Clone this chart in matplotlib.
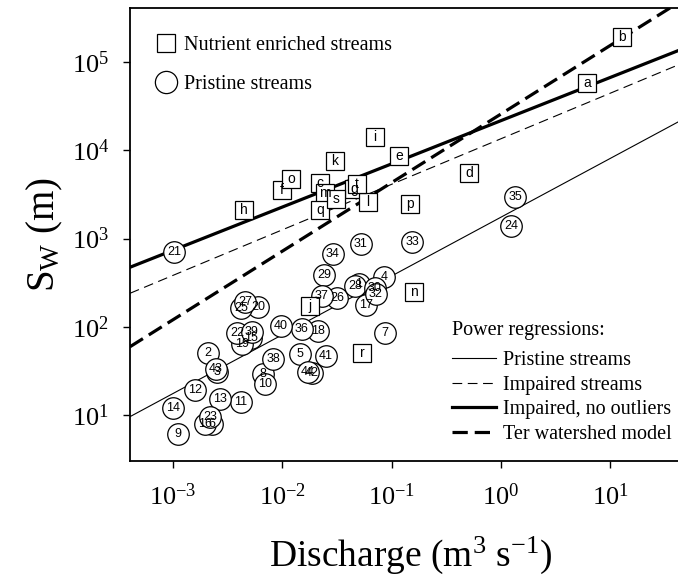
import matplotlib
matplotlib.use('Agg')
import matplotlib.pyplot as plt
import numpy as np
from matplotlib.lines import Line2D

plt.rcParams['font.family'] = 'Liberation Serif'
plt.rcParams['mathtext.fontset'] = 'custom'
plt.rcParams['mathtext.rm'] = 'Liberation Serif'
plt.rcParams['mathtext.it'] = 'Liberation Serif:italic'
plt.rcParams['mathtext.default'] = 'regular'
plt.rcParams['lines.scale_dashes'] = False

# Nutrient enriched (impaired) streams, labelled a..t
enriched_ids = ['a', 'b', 'c', 'd', 'e', 'f', 'g', 'h', 'i', 'j',
                'k', 'l', 'm', 'n', 'o', 'p', 'q', 'r', 's', 't']
enriched_q = [6.14, 12.8, 0.0221, 0.511, 0.117, 0.00993, 0.0453, 0.00447, 0.0705, 0.0179,
              0.0303, 0.0608, 0.0246, 0.160, 0.0120, 0.147, 0.0221, 0.0536, 0.0310, 0.0482]
enriched_sw = [57800, 192000, 4255, 5520, 8610, 3550, 3640, 2100, 14100, 172,
               7550, 2590, 3280, 248, 4720, 2460, 2100, 50.5, 2810, 4150]

# Pristine streams, numbered 1..44
pristine_ids = list(range(1, 45))
pristine_q = [0.0504, 0.00209, 0.00253, 0.0851, 0.0145, 0.00228, 0.0871, 0.00665, 0.00111, 0.00695,
              0.00419, 0.00159, 0.00269, 0.00100, 0.00517, 0.00196, 0.0583, 0.0212, 0.00428, 0.00600,
              0.00102, 0.00385, 0.00218, 1.24, 0.00419, 0.0316, 0.00456, 0.0462, 0.0241, 0.0705,
              0.0525, 0.0720, 0.154, 0.0291, 1.35, 0.0151, 0.0231, 0.00822, 0.00528, 0.00973,
              0.0251, 0.0187, 0.00247, 0.0172]
pristine_sw = [305, 50.5, 30.7, 366, 49.1, 7.91, 84.9, 29.2, 6.10, 22.4,
               14.0, 19.2, 15.2, 12.0, 74.7, 7.91, 176, 89.5, 63.8, 167,
               703, 84.9, 9.48, 1387, 163, 212, 191, 290, 385, 275,
               867, 235, 912, 667, 2950, 94.4, 223, 43.2, 87.3, 102,
               46.7, 29.9, 33.2, 30.7]

# Power regressions Sw = c * Q^b
fit_names = ['Pristine streams', 'Impaired streams', 'Impaired, no outliers', 'Ter watershed model']
fit_c = [1742, 13490, 21630, 25700]
fit_b = [0.666, 0.516, 0.4895, 0.777]
fit_styles = [dict(color='black', lw=0.8, ls='-'),
              dict(color='black', lw=0.8, ls=(0, (7, 4))),
              dict(color='black', lw=2.3, ls='-'),
              dict(color='black', lw=2.3, ls=(0, (11, 5)))]

xlo, xhi = 10 ** -3.393, 10 ** 1.75
ylo, yhi = 10 ** 0.479, 10 ** 5.612

fig = plt.figure(figsize=(6.78, 5.79), dpi=100)
ax = fig.add_axes([0.1917, 0.2038, 0.8292, 0.7824])
ax.set_xscale('log')
ax.set_yscale('log')
ax.set_xlim(xlo, xhi)
ax.set_ylim(ylo, yhi)

qq = np.logspace(np.log10(xlo), np.log10(xhi), 100)
for c, b, st in zip(fit_c, fit_b, fit_styles):
    ax.plot(qq, c * qq ** b, zorder=2, **st)

ax.plot(pristine_q, pristine_sw, 'o', ms=15.5, mfc='white', mec='black', mew=0.9, zorder=3)
ax.plot(enriched_q, enriched_sw, 's', ms=12.5, mfc='white', mec='black', mew=0.9, zorder=3)
for q, s, n in zip(pristine_q, pristine_sw, pristine_ids):
    ax.text(q, s, str(n), ha='center', va='center', fontsize=9,
            family='Liberation Sans', zorder=4)
for q, s, n in zip(enriched_q, enriched_sw, enriched_ids):
    ax.text(q, s, n, ha='center', va='center', fontsize=10,
            family='Liberation Sans', zorder=4)

ax.set_xticks([1e-3, 1e-2, 1e-1, 1e0, 1e1])
ax.set_xticklabels(['10$^{-3}$', '10$^{-2}$', '10$^{-1}$', '10$^{0}$', '10$^{1}$'])
ax.set_yticks([1e1, 1e2, 1e3, 1e4, 1e5])
ax.set_yticklabels(['10$^{1}$', '10$^{2}$', '10$^{3}$', '10$^{4}$', '10$^{5}$'])
ax.minorticks_off()
ax.tick_params(direction='out', length=5, width=1, labelsize=19)
ax.tick_params(axis='x', pad=11)
ax.tick_params(axis='y', pad=10)
for sp in ax.spines.values():
    sp.set_linewidth(1.3)

ax.set_xlabel('Discharge (m$^{3}$ s$^{-1}$)', fontsize=27, labelpad=18)
ax.set_ylabel('S$_{W}$ (m)', fontsize=28, labelpad=5)

sym_handles = [Line2D([], [], marker='s', ls='none', ms=12.5, mfc='white', mec='black', mew=0.9),
               Line2D([], [], marker='o', ls='none', ms=16, mfc='white', mec='black', mew=0.9)]
leg1 = ax.legend(sym_handles, ['Nutrient enriched streams', 'Pristine streams'],
                 loc='upper left', bbox_to_anchor=(154 / 678, 1 - 36 / 579),
                 bbox_transform=fig.transFigure, frameon=False, fontsize=14.5,
                 handlelength=1.2, handletextpad=0.3, labelspacing=1.0,
                 borderpad=0, borderaxespad=0)
ax.add_artist(leg1)

line_handles = [Line2D([], [], **st) for st in fit_styles]
leg2 = ax.legend(line_handles, fit_names, title='Power regressions:',
                 title_fontsize=14.5, alignment='left',
                 loc='upper left', bbox_to_anchor=(452 / 678, 1 - 321 / 579),
                 bbox_transform=fig.transFigure, frameon=False, fontsize=14.5,
                 handlelength=2.2, handletextpad=0.35, labelspacing=0.27,
                 borderpad=0, borderaxespad=0)
# a little more room under the legend title
leg2._legend_box.sep = 8

fig.savefig('out.png', dpi=100)
